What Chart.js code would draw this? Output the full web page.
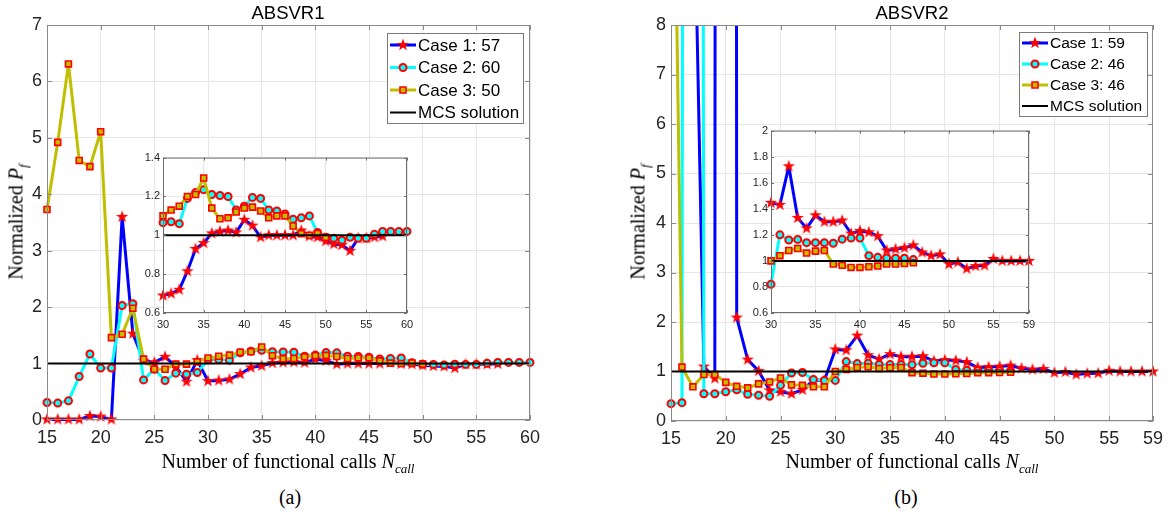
<!DOCTYPE html>
<html>
<head>
<meta charset="utf-8">
<script src="https://cdn.jsdelivr.net/npm/chart.js@4.4.1/dist/chart.umd.min.js"></script>
<style>
  body { margin: 0; background: #fff; width: 1173px; height: 522px; position: relative; overflow: hidden; }
  canvas { position: absolute; }
  .lbl { position: absolute; transform: translate(-50%, -50%); font-family: "Liberation Serif", serif; font-size: 20px; color: #000; white-space: nowrap; }
  .lbl sub { font-size: 13px; }
  .ylbl { transform: translate(-50%, -50%) rotate(-90deg); }
  .ttl { position: absolute; transform: translate(-50%, -50%); font-family: "Liberation Sans", Arial, sans-serif; font-size: 18.5px; color: #000; }
</style>
</head>
<body>
<canvas id="mainA" width="560" height="470" style="left:0;top:0"></canvas>
<canvas id="mainB" width="550" height="470" style="left:620px;top:0"></canvas>
<canvas id="insetA" width="291" height="185" style="left:128px;top:148px"></canvas>
<canvas id="insetB" width="307" height="212" style="left:736px;top:121px"></canvas>

<div class="ttl" style="left:288px;top:13px">ABSVR1</div>
<div class="ttl" style="left:912px;top:13px">ABSVR2</div>
<div class="lbl ylbl" style="left:18px;top:222px">Normalized <i>P</i><sub><i>f</i></sub></div>
<div class="lbl ylbl" style="left:640px;top:222px">Normalized <i>P</i><sub><i>f</i></sub></div>
<div class="lbl" style="left:288px;top:463px">Number of functional calls <i>N</i><sub><i>call</i></sub></div>
<div class="lbl" style="left:912px;top:463px">Number of functional calls <i>N</i><sub><i>call</i></sub></div>
<div class="lbl" style="left:290px;top:497px">(a)</div>
<div class="lbl" style="left:906px;top:497px">(b)</div>

<script>
// ---------- (a) ABSVR1 ----------
const callsA = [15,16,17,18,19,20,21,22,23,24,25,26,27,28,29,30,31,32,33,34,35,36,37,38,39,40,41,42,43,44,45,46,47,48,49,50,51,52,53,54,55,56,57,58,59,60];
const case1A = [0.01,0.01,0.01,0.01,0.07,0.06,0.01,3.6,1.53,1.05,1.02,1.12,0.95,0.68,1.06,
                0.69,0.70,0.72,0.815,0.93,0.96,1.01,1.02,1.025,1.015,1.08,1.05,0.99,1.0,1.0,1.0,1.0,1.025,0.995,0.99,0.97,0.955,0.95,0.92,0.985,0.985,0.99,0.995];
const case2A = [0.31,0.30,0.34,0.77,1.17,0.92,0.92,2.03,2.06,0.71,0.9,0.7,0.83,0.81,0.84,
                1.065,1.07,1.06,1.19,1.22,1.235,1.21,1.205,1.2,1.13,1.15,1.195,1.19,1.13,1.125,1.11,1.083,1.09,1.10,1.014,0.99,0.985,0.975,0.99,0.985,0.985,1.005,1.02,1.02,1.02,1.02];
const case3A = [3.73,4.92,6.31,4.6,4.49,5.11,1.46,1.52,1.98,1.08,0.9,0.9,0.99,0.99,1.03,
                1.1,1.13,1.15,1.2,1.21,1.295,1.14,1.085,1.09,1.12,1.14,1.145,1.125,1.09,1.10,1.10,1.048,1.008,1.0,1.01,0.99];
const legendA = ["Case 1: 57", "Case 2: 60", "Case 3: 50", "MCS solution"];
const xTicksA = [15,20,25,30,35,40,45,50,55,60];
const insetTicksA = [30,35,40,45,50,55,60];

// ---------- (b) ABSVR2 ----------
const callsB = [15,16,17,18,19,20,21,22,23,24,25,26,27,28,29,30,31,32,33,34,35,36,37,38,39,40,41,42,43,44,45,46,47,48,49,50,51,52,53,54,55,56,57,58,59];
const case1B = [30,20,12.1,1.1,0.86,300,2.09,1.24,1.01,0.62,0.59,0.55,0.63,0.82,0.82,
                1.446,1.43,1.726,1.33,1.25,1.35,1.3,1.3,1.31,1.21,1.23,1.22,1.19,1.08,1.09,1.10,1.12,1.065,1.04,1.05,0.975,0.99,0.94,0.96,0.965,1.015,1.0,1.0,1.0,1.0];
const case2B = [0.35,0.37,150,0.55,0.55,0.59,0.63,0.54,0.52,0.5,0.72,0.97,0.98,0.84,0.82,
                0.82,1.2,1.16,1.165,1.14,1.14,1.14,1.135,1.167,1.175,1.175,1.04,1.027,1.022,1.02,1.02,1.01];
const case3B = [16,1.09,0.69,0.94,0.94,0.78,0.7,0.67,0.75,0.79,0.87,0.73,0.72,0.69,0.69,
                1.0,1.04,1.08,1.095,1.06,1.075,1.08,0.976,0.966,0.95,0.95,0.955,0.96,0.976,0.976,0.98,0.985];
const legendB = ["Case 1: 59", "Case 2: 46", "Case 3: 46", "MCS solution"];
const xTicksB = [15,20,25,30,35,40,45,50,55,59];
const insetTicksB = [30,35,40,45,50,55,59];

const mcsValue = 1;

// filled red pentagram, used as point style for Case 1
function makeStar(size) {
  const c = document.createElement("canvas");
  c.width = c.height = size;
  const g = c.getContext("2d");
  const R = size / 2 - 0.5, r = R * 0.4;
  g.beginPath();
  for (let i = 0; i < 10; i++) {
    const a = -Math.PI / 2 + i * Math.PI / 5;
    const rad = i % 2 ? r : R;
    g.lineTo(size / 2 + rad * Math.cos(a), size / 2 + rad * Math.sin(a));
  }
  g.closePath();
  g.fillStyle = "#ff0000";
  g.fill();
  return c;
}
const star = makeStar(14);

function series(xs, ys, from) {
  return ys.map((y, i) => ({ x: xs[i], y: y })).filter(p => p.x >= from);
}

function makeDatasets(xs, c1, c2, c3, labels, xMin, xMax) {
  const clip = { left: 10, right: 10, top: 0, bottom: 10 };
  return [
    { label: labels[0], data: series(xs, c1, xMin), borderColor: "#0000ff", borderWidth: 3,
      pointStyle: star, pointRadius: 6, order: 4, clip: clip },
    { label: labels[1], data: series(xs, c2, xMin), borderColor: "#00ffff", borderWidth: 3,
      pointStyle: "circle", pointRadius: 3.5, pointBorderWidth: 2, pointBorderColor: "#ff0000",
      pointBackgroundColor: "#00ffff", order: 3, clip: clip },
    { label: labels[2], data: series(xs, c3, xMin), borderColor: "#bfbf00", borderWidth: 3,
      pointStyle: "rect", pointRadius: 4.2, pointBorderWidth: 1.6, pointBorderColor: "#ff0000",
      pointBackgroundColor: "#bfbf00", order: 2, clip: clip },
    { label: labels[3], data: [{ x: xMin, y: mcsValue }, { x: xMax, y: mcsValue }], borderColor: "#000000",
      borderWidth: 2, pointRadius: 0, order: 1 }
  ];
}

// axes box with inward ticks (MATLAB style), optional white plot area
const boxPlugin = {
  id: "box",
  beforeDraw(chart, args, opts) {
    if (!opts.fill) return;
    const a = chart.chartArea;
    chart.ctx.save();
    chart.ctx.fillStyle = opts.fill;
    chart.ctx.fillRect(a.left, a.top, a.width, a.height);
    chart.ctx.restore();
  },
  afterDraw(chart, args, opts) {
    const { ctx, chartArea: a, scales } = chart;
    const L = opts.tick || 5;
    ctx.save();
    ctx.strokeStyle = opts.color || "#808080";
    ctx.lineWidth = 1;
    ctx.strokeRect(a.left + 0.5, a.top + 0.5, a.width - 1, a.height - 1);
    ctx.beginPath();
    scales.x.ticks.forEach(t => {
      const px = Math.round(scales.x.getPixelForValue(t.value)) + 0.5;
      ctx.moveTo(px, a.bottom); ctx.lineTo(px, a.bottom - L);
      ctx.moveTo(px, a.top); ctx.lineTo(px, a.top + L);
    });
    scales.y.ticks.forEach(t => {
      const py = Math.round(scales.y.getPixelForValue(t.value)) + 0.5;
      ctx.moveTo(a.left, py); ctx.lineTo(a.left + L, py);
      ctx.moveTo(a.right, py); ctx.lineTo(a.right - L, py);
    });
    ctx.stroke();
    ctx.restore();
  }
};

// legend box inside the plot, line + marker swatches
const boxLegend = {
  id: "boxLegend",
  afterDraw(chart, args, opts) {
    if (!opts.display) return;
    const ctx = chart.ctx;
    ctx.save();
    ctx.fillStyle = "#ffffff";
    ctx.fillRect(opts.x, opts.y, opts.w, opts.h);
    ctx.strokeStyle = "#7a7a7a";
    ctx.lineWidth = 1;
    ctx.strokeRect(opts.x + 0.5, opts.y + 0.5, opts.w, opts.h);
    chart.data.datasets.forEach((ds, i) => {
      const cy = opts.y + opts.first + i * opts.row;
      const x0 = opts.x + 3, x1 = opts.x + 29;
      ctx.strokeStyle = ds.borderColor;
      ctx.lineWidth = ds.borderWidth;
      ctx.beginPath(); ctx.moveTo(x0, cy); ctx.lineTo(x1, cy); ctx.stroke();
      const mx = (x0 + x1) / 2;
      if (ds.pointStyle instanceof HTMLCanvasElement) {
        ctx.drawImage(ds.pointStyle, mx - ds.pointStyle.width / 2, cy - ds.pointStyle.height / 2);
      } else if (ds.pointRadius > 0) {
        ctx.fillStyle = ds.pointBackgroundColor;
        ctx.strokeStyle = ds.pointBorderColor;
        ctx.lineWidth = ds.pointBorderWidth;
        Chart.helpers.drawPoint(ctx, { pointStyle: ds.pointStyle, radius: ds.pointRadius,
          borderWidth: ds.pointBorderWidth, rotation: 0 }, mx, cy);
      }
      ctx.fillStyle = "#000000";
      ctx.font = opts.fontSize + "px 'Liberation Sans', Arial, sans-serif";
      ctx.textBaseline = "middle";
      ctx.fillText(ds.label, x1 + 2, cy + 1);
    });
    ctx.restore();
  }
};

function makeScales(xMin, xMax, xTicks, yMin, yMax, yStep, fontSize, yWidth, xHeight, pad) {
  const font = { family: "'Liberation Sans', Arial, sans-serif", size: fontSize };
  return {
    x: {
      type: "linear", min: xMin, max: xMax,
      afterBuildTicks: s => { s.ticks = xTicks.map(v => ({ value: v })); },
      afterFit: s => { s.height = xHeight; },
      grid: { color: "#e6e6e6", drawTicks: false },
      border: { display: false },
      ticks: { font: font, color: "#262626", padding: pad, maxRotation: 0, autoSkip: false }
    },
    y: {
      min: yMin, max: yMax,
      afterFit: s => { s.width = yWidth; },
      grid: { color: "#e6e6e6", drawTicks: false },
      border: { display: false },
      ticks: { stepSize: yStep, font: font, color: "#262626", padding: pad - 2,
               callback: v => String(Math.round(v * 10) / 10) }
    }
  };
}

function makeChart(id, datasets, scales, padding, box, legend) {
  return new Chart(document.getElementById(id), {
    type: "line",
    data: { datasets: datasets },
    options: {
      responsive: false, animation: false, devicePixelRatio: 1,
      elements: { line: { tension: 0, fill: false, borderJoinStyle: "round" } },
      layout: { padding: padding },
      scales: scales,
      plugins: { legend: { display: false }, tooltip: { enabled: false }, box: box, boxLegend: legend }
    },
    plugins: [boxPlugin, boxLegend]
  });
}

// (a) main and inset
makeChart("mainA",
  makeDatasets(callsA, case1A, case2A, case3A, legendA, 15, 60),
  makeScales(15, 60, xTicksA, 0, 7, 1, 18, 47, 50, 7),
  { left: 0, top: 25, right: 30, bottom: 0 },
  { color: "#8a8a8a", tick: 5 },
  { display: true, x: 387, y: 33, w: 136, h: 90, first: 12, row: 22.5, fontSize: 17 });

makeChart("insetA",
  makeDatasets(callsA, case1A, case2A, case3A, legendA, 30, 60),
  makeScales(30, 60, insetTicksA, 0.6, 1.4, 0.2, 11, 35, 20, 5),
  { left: 0, top: 8, right: 12, bottom: 0 },
  { color: "#6e6e6e", tick: 3, fill: "#ffffff" },
  { display: false });

// (b) main and inset
makeChart("mainB",
  makeDatasets(callsB, case1B, case2B, case3B, legendB, 15, 59),
  makeScales(15, 59, xTicksB, 0, 8, 1, 18, 51, 49, 7),
  { left: 0, top: 25, right: 17, bottom: 0 },
  { color: "#8a8a8a", tick: 5 },
  { display: true, x: 399, y: 32, w: 128, h: 84, first: 11, row: 21, fontSize: 15.5 });

makeChart("insetB",
  makeDatasets(callsB, case1B, case2B, case3B, legendB, 30, 59),
  makeScales(30, 59, insetTicksB, 0.6, 2, 0.2, 11, 35, 20, 5),
  { left: 0, top: 8, right: 14, bottom: 0 },
  { color: "#6e6e6e", tick: 3, fill: "#ffffff" },
  { display: false });
</script>
</body>
</html>
